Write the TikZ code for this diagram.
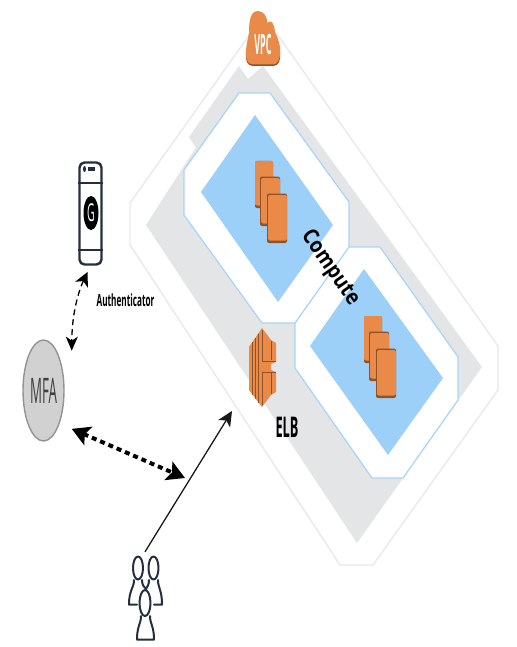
\documentclass[tikz,border=0pt]{standalone}
\usepackage{graphicx}
\usepackage{fontspec}
\setmainfont{Open Sans}
\usetikzlibrary{arrows.meta,shapes.geometric}
\definecolor{orng}{HTML}{E98A48}
\definecolor{orngd}{HTML}{8F5229}
\definecolor{navy}{HTML}{232F3E}
\definecolor{subfill}{HTML}{9DD0F8}
\definecolor{subline}{HTML}{A6D5F7}
\definecolor{vpcline}{HTML}{E9E9E9}
\definecolor{greyfill}{HTML}{E4E5E7}
\tikzset{
  x=1pt,y=-1pt,
  vpcoutline/.style={draw=vpcline,line width=1.4pt,fill=white,line join=round},
  greyarea/.style={fill=greyfill},
  subnetbox/.style={draw=subline,line width=1.2pt,fill=white},
  bluearea/.style={fill=subfill},
  serverback/.style={fill=orngd,rounded corners=2pt},
  serverface/.style={fill=orng,rounded corners=2pt},
  stripe/.style={draw=orngd,line width=1pt},
  personline/.style={navy,line width=2pt,line cap=round,line join=round},
  lbl/.style={inner sep=0pt,text=black},
}
\newcommand{\serverstack}[2]{%
  \begin{scope}[shift={(#1,#2)}]
    \fill[serverback] (0,0) rectangle (18,47);
    \fill[serverface] (0,0) rectangle (18,44.5);
    \fill[serverback] (5,15.5) rectangle (25,65);
    \fill[serverface] (6,17) rectangle (25,62.5);
    \fill[serverback] (12,32.5) rectangle (32,82);
    \fill[serverface] (13,34) rectangle (32,79.5);
  \end{scope}}
\begin{document}
\begin{tikzpicture}
\useasboundingbox (0,0) rectangle (516,647);
% VPC boundary
\draw[vpcoutline] (250,34) -- (277,34) -- (498,346) -- (498,390) -- (373,565) -- (340,565) -- (130,245) -- (130,203) -- cycle;
% grey area
\fill[greyarea] (239,66) -- (248,79) -- (263,66) -- (482,367) -- (357,543) -- (146,225) -- (189,158) -- (196,148) -- (189,137) -- cycle;
% subnets
\draw[subnetbox] (348,247) -- (380,247) -- (458,357) -- (458,400) -- (403,478) -- (372,478) -- (295,368) -- (295,323) -- cycle;
\draw[subnetbox] (239,93) -- (270,93) -- (349,202) -- (349,247) -- (295,323) -- (262,323) -- (184,215) -- (184,170) -- cycle;
\fill[bluearea] (255,115) -- (333,225) -- (278,302) -- (201,192) -- cycle;
\fill[bluearea] (364,269) -- (443,378) -- (388,455) -- (310,346) -- cycle;
\serverstack{255}{161}
\serverstack{364}{316}
% cloud
\fill[orngd] (253,66) .. controls (247,66) and (245,60) .. (246,52) -- (280,52) .. controls (281,60) and (279,66) .. (273,66) -- cycle;
\fill[orng] (253,64.5) .. controls (247,64.5) and (245,58) .. (246,50)
  .. controls (246.5,44) and (248,38) .. (249,33)
  .. controls (249,22) and (250,11) .. (258,11)
  .. controls (264,11) and (267,17) .. (267.5,23)
  .. controls (270,20) and (274,21) .. (275,32)
  .. controls (278,38) and (281,46) .. (280,54)
  .. controls (280,60) and (277,64.5) .. (273,64.5) -- cycle;
\node[inner sep=0pt,text=white] (vpc) at (263,45) {\scalebox{.64}[2]{\fontsize{14}{14}\selectfont\bfseries VPC}};
% ELB icon
\fill[orng] (249,347) -- (262,328) -- (271,340) -- (276,343) -- (276,362) -- (271,364) -- (271,370) -- (276,372) -- (276,392) -- (271,395) -- (262,407) -- (249,390) -- cycle;
\foreach \xx/\ya/\yb in {252.5/342/395,255.5/338/399,258.5/334/403}{\draw[stripe] (\xx,\ya) -- (\xx,\yb);}
\draw[stripe] (262,330) -- (262,361) -- (276,361);
\draw[stripe] (262,405) -- (262,372) -- (276,372);
\draw[stripe] (271.5,341) -- (271.5,360);
\draw[stripe] (271.5,373) -- (271.5,394);
\node[inner sep=0pt] (elbicon) at (262.5,367.5) {};
\node[lbl] (elb) at (287,427) {\scalebox{.85}[1.9]{\fontsize{15}{15}\selectfont\bfseries ELB}};
\node[lbl,rotate=-55] (compute) at (330,268) {\scalebox{1.22}[1.4]{\fontsize{15.5}{16}\selectfont\bfseries Compute}};
% phone
\node[draw=navy,line width=2.4pt,fill=white,rounded corners=5pt,minimum width=22pt,minimum height=102pt,inner sep=0pt] (phone) at (90.5,213.5) {};
\draw[navy,line width=2.4pt] (phone.west |- 0,183) -- (phone.east |- 0,183);
\draw[navy,line width=2.4pt] (phone.west |- 0,250) -- (phone.east |- 0,250);
\fill[navy] (84.5,169) ellipse (1.5 and 3);
\fill[navy] (88,167.5) rectangle (95,171);
\fill[black] (91,213) ellipse (7.5 and 17);
\node[inner sep=0pt,text=white] (gletter) at (91,213) {\scalebox{.8}[1.9]{\fontsize{13}{13}\selectfont G}};
\node[lbl] (auth) at (125.5,300) {\scalebox{.78}[1.6]{\fontsize{10.5}{11}\selectfont\bfseries Authenticator}};
% MFA
\node[ellipse,draw=gray!85,fill=black!18,line width=1.4pt,minimum width=41pt,minimum height=101pt,inner sep=0pt,text=black!75] (mfa) at (43.5,390.5) {\scalebox{.83}[2.2]{\fontsize{16}{16}\selectfont MFA}};
% users
\node[inner sep=0pt,minimum width=34pt,minimum height=83pt] (users) at (145,598.5) {};
\draw[personline] (134,580) .. controls (134,588) and (129,590) .. (129,604.5) -- (137,604.5);
\draw[personline] (142,580) .. controls (142,585) and (144,587) .. (146,589);
\draw[personline] (138,568) ellipse (5 and 11.5);
\draw[personline] (158,580) .. controls (158,588) and (162,590) .. (162,604.5) -- (154,604.5);
\draw[personline] (149,580) .. controls (149,585) and (147,587) .. (146,589);
\draw[personline] (153.5,568) ellipse (5 and 11.5);
\draw[personline,fill=white] (145,603) ellipse (5.5 and 13);
\draw[personline] (141,616) .. controls (141,624) and (137,626) .. (137,639.5) -- (154,639.5) .. controls (154,626) and (150,624) .. (150,616);
% connectors
\coordinate (mfatop) at ([shift={(11,-10)}]mfa.60);
\coordinate (mfalow) at ([shift={(11,8.5)}]mfa.-60);
\coordinate (dashend) at (185,478);
\coordinate (elbin) at (232,411);
\draw[{Stealth[length=14pt,width=14pt,inset=4pt]}-{Stealth[length=14pt,width=12pt,inset=4pt]},line width=1.3pt,dash pattern=on 6pt off 4pt,shorten <=7pt] (phone.south) .. controls (80,288) and (72,310) .. (mfatop);
\draw[{Stealth[length=18pt,width=20pt,inset=4pt]}-{Stealth[length=18pt,width=20pt,inset=4pt]},line width=4pt,dash pattern=on 5pt off 4pt] (mfalow) -- (dashend);
\draw[-{Stealth[length=15pt,width=14pt,inset=4pt]},line width=1.3pt,black!90] ([shift={(0,-5)}]users.north) -- (elbin);
\end{tikzpicture}
\end{document}
